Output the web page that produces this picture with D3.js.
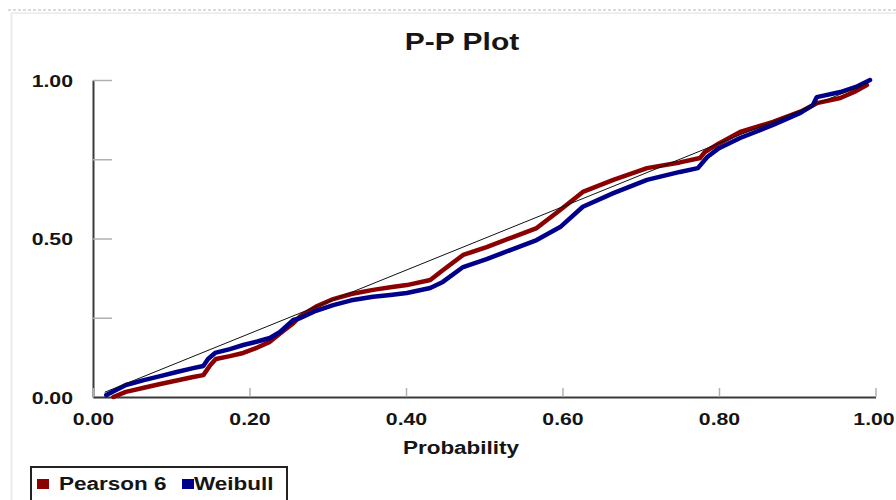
<!DOCTYPE html>
<html>
<head>
<meta charset="utf-8">
<script src="https://cdn.jsdelivr.net/npm/d3@7"></script>
<style>
  html, body { margin: 0; padding: 0; background: #ffffff; }
  svg { display: block; }
  text { font-family: "Liberation Sans", Arial, sans-serif; font-weight: bold; fill: #151515; }
</style>
</head>
<body>
<svg id="chart" width="896" height="500"></svg>
<script>
// Empirical probability (x) vs. fitted CDF (y) for each distribution
const pearsonP = [0.026, 0.042, 0.065, 0.086, 0.107, 0.128, 0.141, 0.150, 0.157, 0.175, 0.192, 0.210, 0.226, 0.239, 0.256, 0.265, 0.285, 0.307, 0.330, 0.358, 0.380, 0.401, 0.431, 0.447, 0.473, 0.503, 0.535, 0.567, 0.597, 0.626, 0.665, 0.708, 0.750, 0.776, 0.782, 0.800, 0.827, 0.869, 0.904, 0.925, 0.940, 0.955, 0.975, 0.989];
const pearsonF = [0.000, 0.016, 0.029, 0.041, 0.052, 0.063, 0.069, 0.101, 0.120, 0.129, 0.139, 0.156, 0.174, 0.200, 0.233, 0.255, 0.285, 0.309, 0.325, 0.338, 0.346, 0.353, 0.369, 0.400, 0.448, 0.473, 0.503, 0.533, 0.590, 0.647, 0.685, 0.722, 0.740, 0.754, 0.773, 0.800, 0.836, 0.868, 0.900, 0.927, 0.935, 0.943, 0.965, 0.984];

const weibullP = [0.017, 0.042, 0.065, 0.086, 0.107, 0.128, 0.141, 0.147, 0.156, 0.175, 0.192, 0.210, 0.226, 0.239, 0.256, 0.265, 0.285, 0.307, 0.330, 0.358, 0.380, 0.401, 0.431, 0.447, 0.473, 0.503, 0.535, 0.567, 0.597, 0.626, 0.665, 0.708, 0.750, 0.773, 0.785, 0.800, 0.827, 0.869, 0.904, 0.920, 0.925, 0.955, 0.975, 0.993];
const weibullF = [0.006, 0.038, 0.053, 0.066, 0.079, 0.091, 0.098, 0.120, 0.139, 0.151, 0.164, 0.175, 0.186, 0.205, 0.243, 0.249, 0.272, 0.290, 0.305, 0.316, 0.322, 0.328, 0.344, 0.363, 0.410, 0.435, 0.465, 0.495, 0.536, 0.600, 0.643, 0.685, 0.710, 0.722, 0.757, 0.785, 0.817, 0.858, 0.896, 0.921, 0.946, 0.962, 0.978, 1.000];

// Reference line y = x
const diagonal = [0.015, 0.99];

const xTicks = [0, 0.2, 0.4, 0.6, 0.8, 1.0];
const yTicks = [0, 0.25, 0.5, 0.75, 1.0];
const yLabelled = [0, 0.5, 1.0];

const seriesNames = ["Pearson 6", "Weibull"];
const seriesColors = ["#8b0000", "#00008b"];

const SX = 1.25; // horizontal stretch of lettering

const svg = d3.select("#chart");

// Panel frame
svg.append("line").attr("x1", 8).attr("x2", 896).attr("y1", 10).attr("y2", 10)
  .attr("stroke", "#d0d0d0").attr("stroke-width", 1.5).attr("stroke-dasharray", "3,2");
svg.append("line").attr("x1", 11).attr("x2", 896).attr("y1", 13).attr("y2", 13)
  .attr("stroke", "#efefef").attr("stroke-width", 2);
svg.append("line").attr("x1", 11.5).attr("x2", 11.5).attr("y1", 13).attr("y2", 500)
  .attr("stroke", "#ececec").attr("stroke-width", 2);

const x = d3.scaleLinear().domain([0, 1]).range([93, 875.5]);
const y = d3.scaleLinear().domain([0, 1]).range([397, 80]);

// Y axis: ticks point into the plot
const yAxis = d3.axisLeft(y)
  .tickValues(yTicks)
  .tickSizeInner(-19)
  .tickSizeOuter(0)
  .tickPadding(16)
  .tickFormat(d => yLabelled.includes(d) ? d3.format(".2f")(d) : "");
const gy = svg.append("g").attr("transform", "translate(93,0)").call(yAxis);
gy.select(".domain").attr("stroke", "#3a3a3a").attr("stroke-width", 2);
gy.selectAll(".tick line").attr("stroke", "#b0b0b0").attr("stroke-width", 1.5);
gy.selectAll(".tick text")
  .attr("font-size", 17).attr("fill", "#151515")
  .attr("x", -20 / SX).attr("dy", "0.36em")
  .attr("transform", `scale(${SX},1)`);

// X axis: ticks point up; the last label is kept inside the page edge
const xAxis = d3.axisBottom(x)
  .tickValues(xTicks)
  .tickSizeInner(-9)
  .tickSizeOuter(0)
  .tickPadding(16)
  .tickFormat(d3.format(".2f"));
const gx = svg.append("g").attr("transform", "translate(0,397)").call(xAxis);
gx.select(".domain").attr("stroke", "#3a3a3a").attr("stroke-width", 2);
gx.selectAll(".tick line").attr("stroke", "#b0b0b0").attr("stroke-width", 1.5);
gx.selectAll(".tick text")
  .attr("font-size", 17).attr("fill", "#151515")
  .attr("x", d => (d === 1 ? -2 / SX : 0))
  .attr("transform", `scale(${SX},1)`);

// Series lines
const line = d3.line().x(d => x(d[0])).y(d => y(d[1]));
const series = [
  d3.zip(pearsonP, pearsonF),
  d3.zip(weibullP, weibullF)
];
series.forEach((pts, i) => {
  svg.append("path")
    .datum(pts)
    .attr("d", line)
    .attr("fill", "none")
    .attr("stroke", seriesColors[i])
    .attr("stroke-width", 4.5)
    .attr("stroke-linejoin", "round")
    .attr("stroke-linecap", "round");
});

// Reference diagonal
svg.append("path")
  .datum(diagonal.map(v => [v, v]))
  .attr("d", line)
  .attr("fill", "none")
  .attr("stroke", "#111")
  .attr("stroke-width", 1);

// Titles
function label(txt, cx, cy, size, anchor) {
  svg.append("text")
    .attr("transform", `translate(${cx},${cy}) scale(${SX},1)`)
    .attr("text-anchor", anchor || "middle")
    .attr("font-size", size)
    .text(txt);
}
label("P-P Plot", 462, 50, 24);
label("Probability", 461, 454, 18);

// Legend
const legend = svg.append("g");
legend.append("rect")
  .attr("x", 31).attr("y", 467).attr("width", 256).attr("height", 50)
  .attr("fill", "#fff").attr("stroke", "#222").attr("stroke-width", 2);
const legendX = [37, 182];
seriesNames.forEach((name, i) => {
  legend.append("rect")
    .attr("x", legendX[i]).attr("y", 479).attr("width", 12).attr("height", 10)
    .attr("fill", seriesColors[i]);
  legend.append("text")
    .attr("transform", `translate(${legendX[i] + 22 - (i ? 10 : 0)},490) scale(${SX},1)`)
    .attr("font-size", 18)
    .text(name);
});
</script>
</body>
</html>
